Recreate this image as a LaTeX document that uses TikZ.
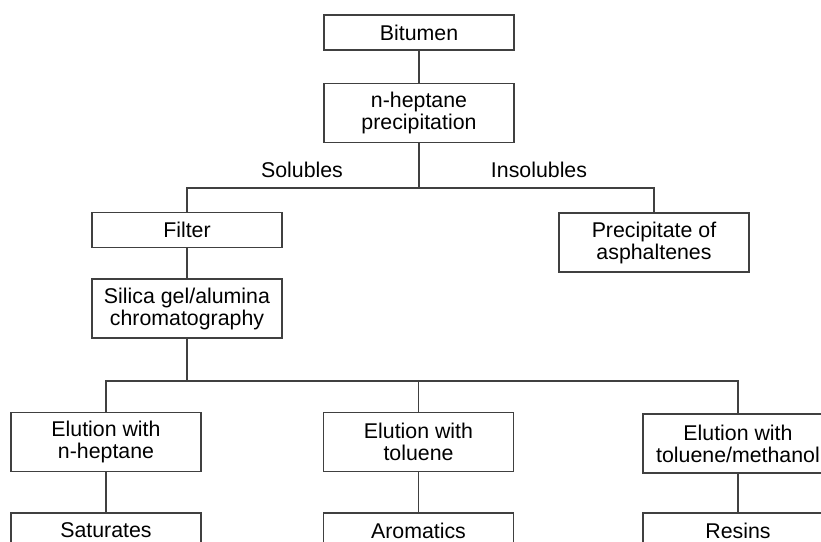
\documentclass[tikz,border=0pt]{standalone}
\usepackage{fontspec}
\setmainfont{Liberation Sans}
\begin{document}
\begin{tikzpicture}[x=0.75pt,y=-0.75pt,
  every node/.style={font=\fontsize{16pt}{16.5pt}\selectfont, text=black},
  box/.style={draw=black!75, line width=0.8pt, inner sep=0pt, align=center,
    minimum width=142.5pt},
  sbox/.style={box, minimum height=26.25pt},
  tbox/.style={box, minimum height=44.25pt},
  conn/.style={draw=black!75, line width=0.8pt}]
\useasboundingbox (0,0) rectangle (821,542);
\clip (0,0) rectangle (821,542);
\node[sbox] (bit) at (419,32.5) {Bitumen};
\node[tbox] (hep) at (419,113) {n-heptane\\precipitation};
\node[sbox] (filt) at (187,230) {Filter};
\node[tbox] (prec) at (654,242.5) {Precipitate of\\asphaltenes};
\node[tbox] (sil) at (187,308.5) {Silica gel/alumina\\chromatography};
\node[tbox] (el1) at (106,442) {Elution with\\n-heptane};
\node[tbox] (el2) at (418.5,442) {Elution with\\toluene};
\node[tbox] (el3) at (738,443.5) {Elution with\\toluene/methanol};
\node[sbox] (sat) at (106,530.5) {Saturates};
\node[sbox] (aro) at (418.5,530.5) {Aromatics};
\node[sbox] (res) at (738,530.5) {Resins};
\node (sol) at (302,170) {Solubles};
\node (ins) at (539,170) {Insolubles};
\coordinate (j1) at (419,188);
\coordinate (j2) at (187,381);
\draw[conn] (bit) -- (hep);
\draw[conn] (hep.south) -- (j1);
\draw[conn] (filt.north) |- (j1) -| (prec.north);
\draw[conn] (filt) -- (sil);
\draw[conn] (sil.south) -- (j2);
\draw[conn] (el1.north) |- (j2) -| (el3.north);
\draw[conn] (el2.north) -- (el2.north |- j2);
\draw[conn] (el1) -- (sat);
\draw[conn] (el2) -- (aro);
\draw[conn] (el3) -- (res);
\end{tikzpicture}
\end{document}
